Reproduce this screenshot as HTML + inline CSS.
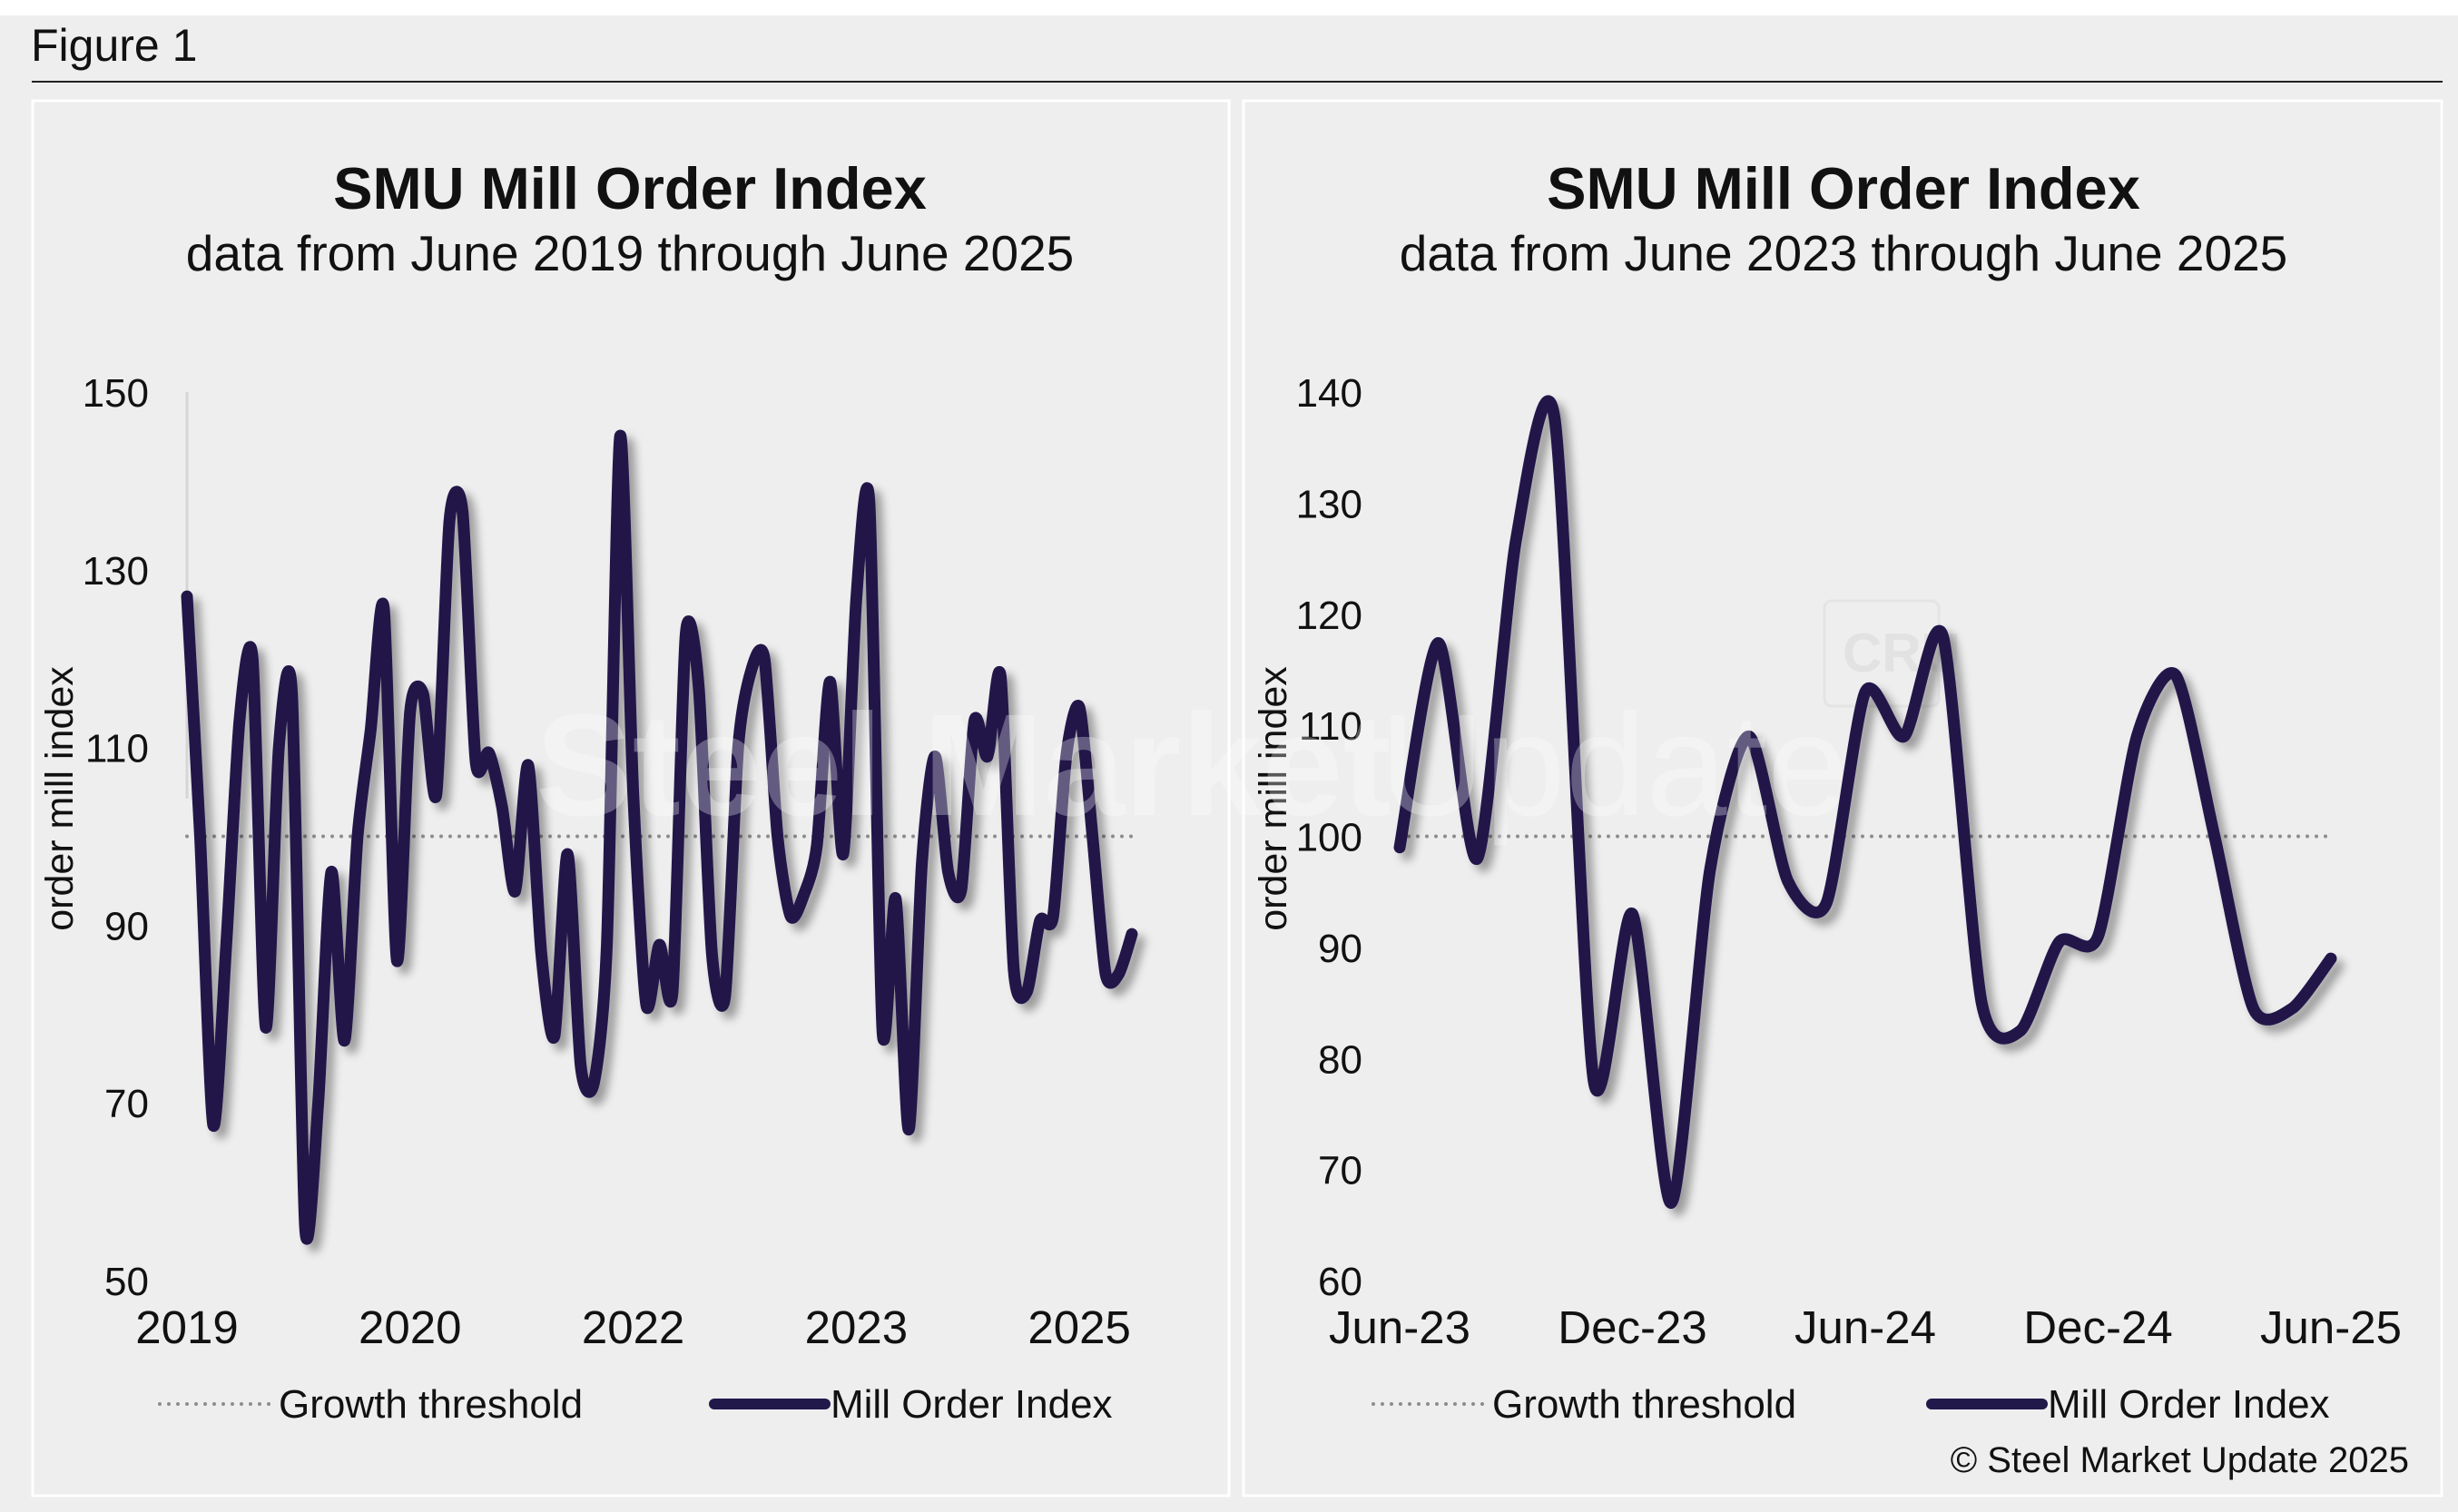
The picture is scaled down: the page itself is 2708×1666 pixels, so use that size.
<!DOCTYPE html>
<html><head><meta charset="utf-8"><style>
html,body{margin:0;padding:0;background:#fff;}
svg{display:block;font-family:"Liberation Sans",Arial,sans-serif;}
</style></head><body>
<svg id="fig" width="2708" height="1666" viewBox="0 0 2708 1666">
<defs>
<filter id="sh" x="-5%" y="-5%" width="110%" height="110%">
<feGaussianBlur in="SourceAlpha" stdDeviation="5"/>
<feOffset dx="8" dy="8" result="b"/>
<feComponentTransfer><feFuncA type="linear" slope="0.35"/></feComponentTransfer>
<feMerge><feMergeNode/><feMergeNode in="SourceGraphic"/></feMerge>
</filter>
</defs>
<rect x="0" y="17" width="2708" height="1649" fill="#eeeeee"/>
<text x="34" y="67" font-size="50" fill="#111">Figure 1</text>
<line x1="35" y1="90" x2="2691" y2="90" stroke="#222" stroke-width="2"/>
<rect x="36" y="111" width="1318" height="1537" fill="none" stroke="#fff" stroke-width="3"/>
<rect x="1370" y="111" width="1320" height="1537" fill="none" stroke="#fff" stroke-width="3"/>

<g id="left">
<text x="694" y="230" font-size="65" font-weight="bold" text-anchor="middle" fill="#111">SMU Mill Order Index</text>
<text x="694" y="298" font-size="55" text-anchor="middle" fill="#111">data from June 2019 through June 2025</text>
<text transform="translate(80,880) rotate(-90)" font-size="43" text-anchor="middle" fill="#111">order mill index</text>
<line x1="206" y1="432" x2="206" y2="880" stroke="#d6d6d6" stroke-width="3"/>
</g>
<g id="right">
<text x="2031" y="230" font-size="65" font-weight="bold" text-anchor="middle" fill="#111">SMU Mill Order Index</text>
<text x="2031" y="298" font-size="55" text-anchor="middle" fill="#111">data from June 2023 through June 2025</text>
<text transform="translate(1417,880) rotate(-90)" font-size="43" text-anchor="middle" fill="#111">order mill index</text>
<text x="2030" y="740" font-size="60" font-weight="bold" fill="#e2e2e2">CRU</text>
<rect x="2010" y="662" width="126" height="116" rx="8" fill="none" stroke="#e4e4e4" stroke-width="3"/>
</g>
<text x="2654" y="1622" font-size="40" text-anchor="end" fill="#111">© Steel Market Update 2025</text>
</svg>
<script>
const leftValues=[127,100,67.5,88,113,120,78.5,110,116,56,70,96,77,100,112,125.7,86,114,116,104.7,135.5,136.5,108.4,109.4,103.4,93.8,108,86.8,77.5,98,74.2,72.2,88,145,105,81,87.8,82.5,122.7,116.7,86.8,82,110,118.7,120,100,91,93.4,99,117.4,98,126.7,137.5,78,93,67,97,109,96,94,113,109,118,85,82.5,90.5,91,109,114.5,100,84.5,84.5,89];
const leftTickLabels=["2019","2020","2022","2023","2025"];
const leftTickIndex=[0,17,34,51,68];
const leftYTicks=[50,70,90,110,130,150];
const rightValues=[99,117.4,98,126.7,137.5,78,93,67,97,109,96,94,113,109,118,85,82.5,90.5,91,109,114.5,100,84.5,84.5,89];
const rightTickLabels=["Jun-23","Dec-23","Jun-24","Dec-24","Jun-25"];
const rightTickIndex=[0,6,12,18,24];
const rightYTicks=[60,70,80,90,100,110,120,130,140];
const threshold=100;

const NS="http://www.w3.org/2000/svg";
function mk(tag,attrs,parent){const e=document.createElementNS(NS,tag);for(const k in attrs)e.setAttribute(k,attrs[k]);parent.appendChild(e);return e;}
function smooth(pts){let d="M"+pts[0][0]+","+pts[0][1];for(let i=0;i<pts.length-1;i++){const p0=pts[Math.max(0,i-1)],p1=pts[i],p2=pts[i+1],p3=pts[Math.min(pts.length-1,i+2)];const t=8;d+=" C"+(p1[0]+(p2[0]-p0[0])/t)+","+(p1[1]+(p2[1]-p0[1])/t)+" "+(p2[0]-(p3[0]-p1[0])/t)+","+(p2[1]-(p3[1]-p1[1])/t)+" "+p2[0]+","+p2[1];}return d;}

function chart(g,vals,ticksLab,ticksIdx,yTicks,cfg,pfx){
  const n=vals.length;
  const xs=i=>cfg.x0+(cfg.x1-cfg.x0)*i/(n-1);
  const ys=v=>cfg.yTop+(cfg.ymax-v)/(cfg.ymax-cfg.ymin)*(cfg.yBot-cfg.yTop);
  yTicks.forEach(v=>{const t=mk("text",{x:cfg.yLabX,y:ys(v)+16,"font-size":44,"text-anchor":"end",fill:"#111"},g);t.textContent=v;
    
    });
  ticksLab.forEach((l,k)=>{const t=mk("text",{x:xs(ticksIdx[k]),y:1480,"font-size":51,"text-anchor":"middle",fill:"#111"},g);t.textContent=l;
    
    });
  const th=mk("line",{x1:cfg.x0,x2:cfg.thEnd,y1:ys(threshold),y2:ys(threshold),stroke:"#8c8c8c","stroke-width":4,"stroke-dasharray":"0 10","stroke-linecap":"round"},g);
  
  
  const pts=vals.map((v,i)=>[xs(i),ys(v)]);
  const p=mk("path",{d:smooth(pts),fill:"none",stroke:"#20194a","stroke-width":13,"stroke-linejoin":"round","stroke-linecap":"round",filter:"url(#sh)"},g);
  
  
  const lg=mk("line",{x1:cfg.lgx,x2:cfg.lgx+121,y1:1547,y2:1547,stroke:"#8c8c8c","stroke-width":4,"stroke-dasharray":"0 10","stroke-linecap":"round"},g);
  
  
  const t1=mk("text",{x:cfg.lgx+131,y:1562,"font-size":44,fill:"#111"},g);t1.textContent="Growth threshold";
  
  
  const l2=mk("line",{x1:cfg.lmx,x2:cfg.lmx+122,y1:1547,y2:1547,stroke:"#20194a","stroke-width":12,"stroke-linecap":"round"},g);
  
  
  const t2=mk("text",{x:cfg.lmx+128,y:1562,"font-size":44,fill:"#111"},g);t2.textContent="Mill Order Index";
  
  
}
const L=document.getElementById("left"),R=document.getElementById("right");
chart(L,leftValues,leftTickLabels,leftTickIndex,leftYTicks,{x0:206,x1:1247,yTop:432,yBot:1411,ymin:50,ymax:150,yLabX:164,thEnd:1247,lgx:176,lmx:787},"left");
chart(R,rightValues,rightTickLabels,rightTickIndex,rightYTicks,{x0:1542,x1:2568,yTop:432,yBot:1411,ymin:60,ymax:140,yLabX:1501,thEnd:2568,lgx:1513,lmx:2128},"right");
const svg=document.getElementById("fig");
const wm=mk("text",{x:590,y:898,"font-size":160,"font-weight":"bold",fill:"#ffffff","fill-opacity":"0.3"},svg);
wm.textContent="Steel Market";


const wm2=mk("text",{x:1520,y:898,"font-size":160,fill:"#ffffff","fill-opacity":"0.3"},svg);
wm2.textContent="Update";


</script>
</body></html>
